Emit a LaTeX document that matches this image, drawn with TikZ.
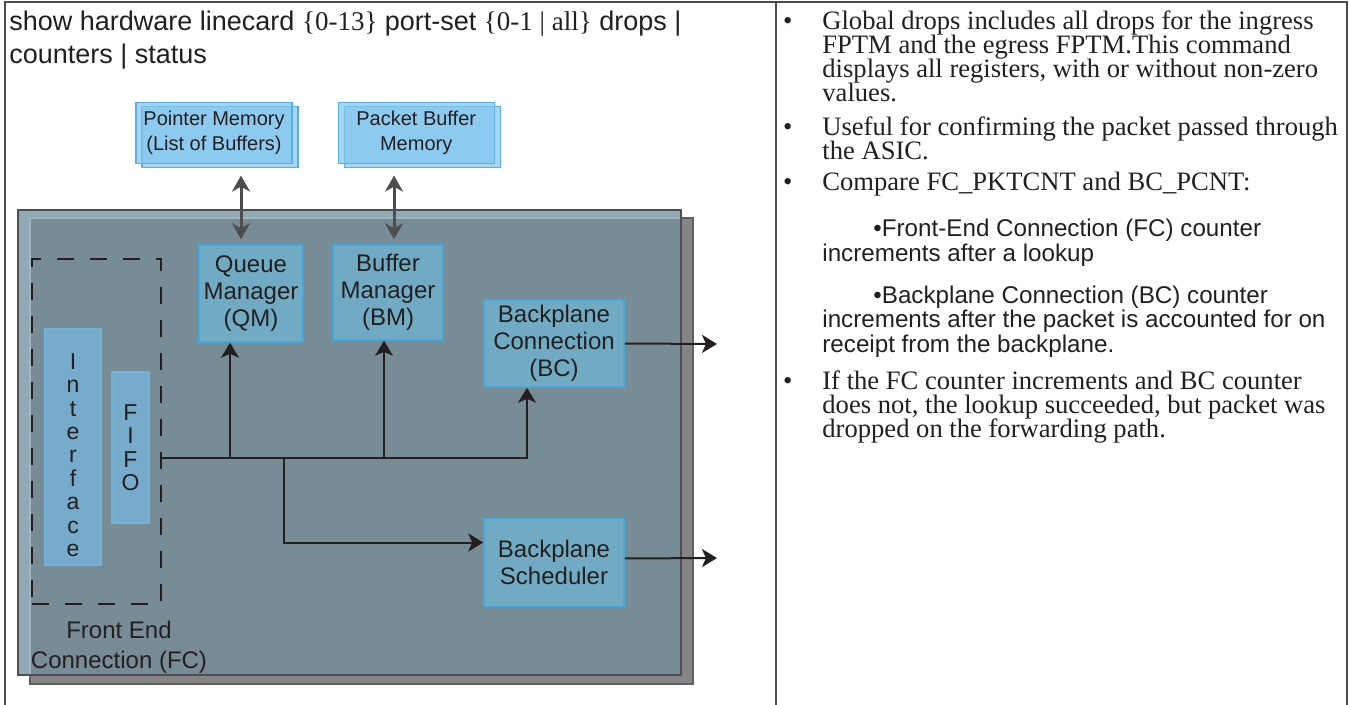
\documentclass[tikz,border=0pt]{standalone}
\usepackage{fontspec}
\setmainfont{Liberation Sans}
\newfontfamily\tnr{Liberation Serif}
\usetikzlibrary{positioning,arrows.meta,shadows}
\definecolor{ink}{HTML}{231F20}
\definecolor{tablegrey}{HTML}{4B4B4D}
\definecolor{shadowgrey}{HTML}{858587}
\definecolor{shadowedge}{HTML}{5F5F61}
\definecolor{chiplight}{HTML}{91A8B5}
\definecolor{chipslate}{HTML}{788C96}
\definecolor{chipglow}{HTML}{A0B4C0}
\definecolor{chipedge}{HTML}{4E4F51}
\definecolor{memfill}{HTML}{84C6EF}
\definecolor{memedge}{HTML}{5AAFE2}
\definecolor{memarrow}{HTML}{4D4D4F}
\definecolor{unitfill}{HTML}{71ABC3}
\definecolor{unitedge}{HTML}{45A8DC}
\definecolor{portfill}{HTML}{77ABCB}
\definecolor{portedge}{HTML}{6FB2DA}
\tikzset{
  tabrule/.style={draw=tablegrey, line width=1pt},
  shadowframe/.style={fill=shadowgrey, draw=shadowedge, line width=1.25pt},
  chipframe/.style={draw=chipedge, line width=1.25pt},
  chipglint/.style={draw=chipglow, line width=0.75pt},
  membox/.style={
    draw=memedge, fill=memfill, fill opacity=0.73, text opacity=1,
    line width=0.6pt, minimum width=78pt, minimum height=30.5pt,
    align=center, inner sep=1pt, text=ink,
    font={\fontsize{10}{12.5}\selectfont},
    copy shadow={shadow xshift=3pt, shadow yshift=-2pt, fill=memfill,
                 draw=memedge, fill opacity=0.73, line width=0.6pt},
  },
  unitbox/.style={
    draw=unitedge, fill=unitfill, line width=0.75pt, align=center,
    inner sep=1pt, text=ink, font={\fontsize{12}{13.5}\selectfont},
  },
  portbox/.style={
    draw=portedge, fill=portfill, line width=0.75pt, align=center,
    inner sep=0pt, text=ink, font={\fontsize{11.5}{11.7}\selectfont},
  },
  fcgroup/.style={draw=ink, line width=1pt, dash pattern=on 8.5pt off 8pt},
  flow/.style={-{Stealth[length=7.5pt, width=9pt, inset=2pt]}, draw=ink,
               line width=1pt},
  memflow/.style={{Stealth[length=8pt, width=9pt, inset=2.5pt]}-{Stealth[length=8pt, width=9pt, inset=2.5pt]},
                  draw=memarrow, line width=1.5pt},
  lbl/.style={align=center, inner sep=0pt, text=ink,
              font={\fontsize{12}{15}\selectfont}},
  note/.style={anchor=west, align=left, inner sep=0pt, text=ink},
  serifnote/.style={note,
    font={\tnr\fontsize{13.3}{12}\selectfont\lineskiplimit=-20pt}},
  sansnote/.style={note,
    font={\fontsize{12.1}{12.3}\selectfont\lineskiplimit=-20pt}},
  cmdline/.style={note,
    font={\fontsize{13.5}{16.5}\selectfont\lineskiplimit=-20pt}},
}

\begin{document}
\begin{tikzpicture}[x=0.5pt, y=-0.5pt]
\useasboundingbox (0,0) rectangle (1349,705);

% ---------------------------------------------------------------- table
\draw[tabrule] (5,705) |- (1347,2) -- (1347,705);
\draw[tabrule] (776,2) -- (776,705);

\node[cmdline] (cmd) at (9,40)
  {show hardware linecard {\tnr\{0-13\}} port-set {\tnr\{0-1 | all\}} drops |\\
   counters | status};

% ---------------------------------------------------------------- chip
\draw[shadowframe] (30,218) rectangle (693,684);
\fill[chiplight] (18,210) rectangle (681,675);
\fill[chipslate] (30,218) rectangle (681,675);
\draw[chipglint] (30,675) -- (30,218) -- (681,218);
\draw[chipframe] (18,210) rectangle (681,675);

% ---------------------------------------------------------------- memories
\node[membox] (ptrmem) at (214,133) {Pointer Memory\\(List of Buffers)};
\node[membox, right=22.5pt of ptrmem] (pktmem) {Packet Buffer\\Memory};

% ---------------------------------------------------------------- managers
\node[unitbox, minimum width=52pt, minimum height=48.5pt] (qm) at (251,293.5)
  {Queue\\Manager\\(QM)};
\node[unitbox, minimum width=55pt, minimum height=47.5pt] (bmgr) at (388,292.5)
  {Buffer\\Manager\\(BM)};
\node[unitbox, minimum width=70pt, minimum height=43.5pt] (bc) at (554,343.5)
  {Backplane\\Connection\\(BC)};
\node[unitbox, minimum width=70pt, minimum height=44pt, below=65pt of bc] (bs)
  {Backplane\\Scheduler};

% ---------------------------------------------------------------- front end
\node[fcgroup, minimum width=64.5pt, minimum height=172.5pt] (fc) at (96.5,431.5) {};
\node[portbox, minimum width=28pt, minimum height=118pt] (intf) at (73,447)
  {\rule{0pt}{16pt}I\\n\\t\\e\\r\\f\\a\\c\\e};
\node[portbox, minimum width=18.5pt, minimum height=75.5pt] (fifo) at (130.5,447.5)
  {F\\I\\F\\O};
\node[lbl] (fclabel) at (119,647) {Front End\\Connection (FC)};

% ---------------------------------------------------------------- edges
\coordinate (busL) at (162,458);
\coordinate (split) at (284,458);
\coordinate (qmin) at ([xshift=-10.5pt]qm.south);
\coordinate (bmin) at ([xshift=-2pt]bmgr.south);
\coordinate (bcin) at ([xshift=-13.5pt]bc.south);
\coordinate (qmtop) at ([xshift=-5pt]qm.north);
\coordinate (bmtop) at ([xshift=3pt]bmgr.north);
\coordinate (outC) at (717,344);
\coordinate (outS) at (717,558);

\draw[flow] (busL) -| (bcin);
\draw[flow] (qmin |- busL) -- (qmin);
\draw[flow] (bmin |- busL) -- (bmin);
\draw[flow] (split) |- ([yshift=10pt]bs.west);
\draw[flow] (bc.east) -- (outC);
\draw[flow] ([yshift=2pt]bs.east) -- (outS);

\draw[memflow, shorten <=2.5pt, shorten >=5.75pt] (qmtop) -- (qmtop |- ptrmem.south);
\draw[memflow, shorten <=2.5pt, shorten >=5.75pt] (bmtop) -- (bmtop |- pktmem.south);

% ---------------------------------------------------------------- notes
\node[serifnote] (note1) at (822,56)
  {\llap{\textbullet\hspace{15pt}}Global drops includes all drops for the ingress\\
   FPTM and the egress FPTM.This command\\
   displays all registers, with or without non-zero\\
   values.};
\node[serifnote] (note2) at (822,138)
  {\llap{\textbullet\hspace{15pt}}Useful for confirming the packet passed through\\
   the ASIC.};
\node[serifnote] (note3) at (822,184)
  {\llap{\textbullet\hspace{15pt}}Compare FC\_PKTCNT and BC\_PCNT:};
\node[sansnote] (sub1) at (822,243)
  {\hspace*{25.5pt}\textbullet Front-End Connection (FC) counter\\
   increments after a lookup};
\node[sansnote] (sub2) at (822,321.5)
  {\hspace*{25.5pt}\textbullet Backplane Connection (BC) counter\\
   increments after the packet is accounted for on\\
   receipt from the backplane.};
\node[serifnote] (note4) at (822,407)
  {\llap{\textbullet\hspace{15pt}}If the FC counter increments and BC counter\\
   does not, the lookup succeeded, but packet was\\
   dropped on the forwarding path.};

\end{tikzpicture}
\end{document}
